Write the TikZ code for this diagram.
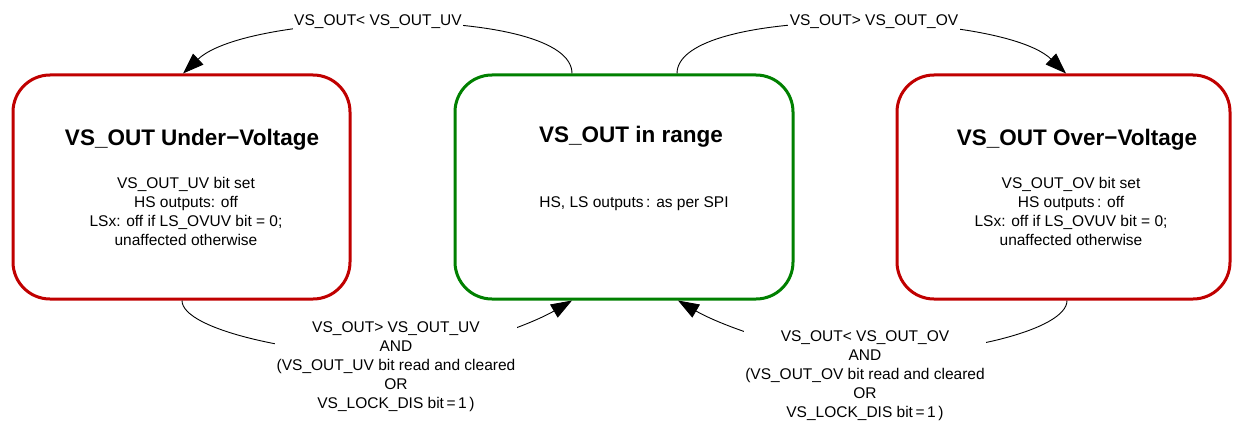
\documentclass[tikz,border=0pt]{standalone}
\usepackage{fontspec}
\setmainfont{Liberation Sans}
\usetikzlibrary{arrows.meta,calc}
\definecolor{boxred}{RGB}{192,0,0}
\definecolor{boxgreen}{RGB}{0,128,0}
\begin{document}
\begin{tikzpicture}[x=1pt,y=-1pt,
  statebox/.style={draw=#1, line width=3pt, rounded corners=37pt, minimum width=337pt, minimum height=224pt, inner sep=0pt},
  titletext/.style={font=\fontsize{22.5}{27}\selectfont\bfseries, inner sep=0pt},
  bodytext/.style={font=\fontsize{15.5}{19}\selectfont, align=center, inner sep=0pt},
  edgelabel/.style={font=\fontsize{15.5}{19}\selectfont, align=center, fill=white, inner sep=1.5pt},
  trans/.style={line width=0.9pt, -{Triangle[length=21pt,width=15pt]}}
]
\useasboundingbox (0,0) rectangle (1233,425);

% states
\node[statebox=boxred] (uv) at (181.5,187) {};
\node[statebox=boxgreen, minimum width=338pt] (rng) at (624,187) {};
\node[statebox=boxred, minimum width=333pt] (ov) at (1063.5,187) {};

\node[titletext] (uvt) at (192,140) {VS\_OUT Under−Voltage};
\node[titletext] (rngt) at (631,137) {VS\_OUT in range};
\node[titletext] (ovt) at (1077,140) {VS\_OUT Over−Voltage};

\node[bodytext] (uvb) at (186,211.5) {VS\_OUT\_UV bit set\\HS outputs: off\\LSx: off if LS\_OVUV bit = 0;\\unaffected otherwise};
\node[bodytext] (rngb) at (634,204) {HS, LS outputs\,: as per SPI};
\node[bodytext] (ovb) at (1071,211.5) {VS\_OUT\_OV bit set\\HS outputs\,: off\\LSx: off if LS\_OVUV bit = 0;\\unaffected otherwise};

% helper coordinates under the bottom labels
\coordinate (m1) at (390,355);
\coordinate (m2) at (865,355);

% transitions
\draw[trans] ([xshift=-52pt]rng.north) .. controls (572,5) and (250,10) .. ([xshift=1.5pt]uv.north);
\draw[trans] ([xshift=53pt]rng.north) .. controls (677,5) and (1000,10) .. ([xshift=2.5pt]ov.north);
\draw[trans] ([xshift=0.5pt]uv.south) .. controls (182,330) and (300,355) .. (m1)
  .. controls (450,355) and (530,325) .. ([xshift=-52pt]rng.south);
\draw[trans] ([xshift=3.5pt]ov.south) .. controls (1067,330) and (960,355) .. (m2)
  .. controls (800,355) and (720,325) .. ([xshift=54pt]rng.south);

% transition labels
\node[edgelabel] (l1) at (378,22) {VS\_OUT< VS\_OUT\_UV};
\node[edgelabel] (l2) at (874,22) {VS\_OUT> VS\_OUT\_OV};
\node[edgelabel] (l3) at (396,367) {VS\_OUT> VS\_OUT\_UV\\AND\\(VS\_OUT\_UV bit read and cleared\\OR\\VS\_LOCK\_DIS bit\,=\,1\,)};
\node[edgelabel] (l4) at (865,375.5) {VS\_OUT< VS\_OUT\_OV\\AND\\(VS\_OUT\_OV bit read and cleared\\OR\\VS\_LOCK\_DIS bit\,=\,1\,)};
\end{tikzpicture}
\end{document}
